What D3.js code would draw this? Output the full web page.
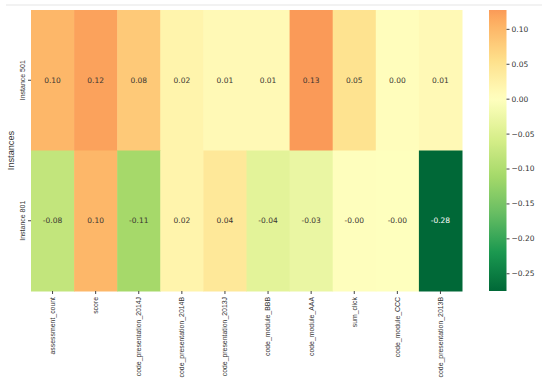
<!DOCTYPE html>
<html>
<head>
<meta charset="utf-8">
<script src="https://cdn.jsdelivr.net/npm/d3@7"></script>
<style>
  body { margin: 0; background: #fff; }
  svg text { font-family: "DejaVu Sans", sans-serif; }
  .lbl { font-family: "Liberation Sans", Arial, sans-serif !important; }
</style>
</head>
<body>
<div id="chart"></div>
<script>
// columns and rows of the heatmap
const features = ['assessment_count', 'score', 'code_presentation_2014J', 'code_presentation_2014B',
  'code_presentation_2013J', 'code_module_BBB', 'code_module_AAA', 'sum_click',
  'code_module_CCC', 'code_presentation_2013B'];
const instances = ['Instance 501', 'Instance 801'];

const row501 = [0.10, 0.12, 0.08, 0.02, 0.01, 0.01, 0.127, 0.05, 0.003, 0.01];
const row801 = [-0.08, 0.10, -0.11, 0.02, 0.04, -0.04, -0.03, -0.002, -0.001, -0.2754];

const cbarTicks = [0.10, 0.05, 0.00, -0.05, -0.10, -0.15, -0.20, -0.25];

// RdYlGn, reversed so negatives go green
const rdylgn = ['#a50026', '#d73027', '#f46d43', '#fdae61', '#fee08b', '#ffffbf',
  '#d9ef8b', '#a6d96a', '#66bd63', '#1a9850', '#006837'];

const W = 550, H = 389;
const margin = { top: 10, right: 88, bottom: 98, left: 31 };
const width = W - margin.left - margin.right;
const height = H - margin.top - margin.bottom;

const svg = d3.select('#chart').append('svg')
  .attr('width', W)
  .attr('height', H);

// faint frame line along the top
svg.append('line')
  .attr('x1', 6).attr('x2', 542)
  .attr('y1', 5).attr('y2', 5)
  .attr('stroke', '#eeeeee')
  .attr('stroke-width', 1.5);

const data = [];
[row501, row801].forEach((vals, i) => {
  vals.forEach((v, j) => data.push({ row: instances[i], col: features[j], value: v }));
});

const vmin = d3.min(data, d => d.value);
const vmax = d3.max(data, d => d.value);
const vrange = Math.max(Math.abs(vmin), Math.abs(vmax));

// seaborn center=0: symmetric norm over the colormap
const cmap = d3.scaleLinear()
  .domain(d3.range(rdylgn.length).map(i => -vrange + i * (2 * vrange) / (rdylgn.length - 1)))
  .range(rdylgn.slice().reverse())
  .interpolate(d3.interpolateRgb)
  .clamp(true);

const x = d3.scaleBand().domain(features).range([0, width]);
const y = d3.scaleBand().domain(instances).range([0, height]);

const g = svg.append('g')
  .attr('transform', `translate(${margin.left},${margin.top})`);

g.selectAll('.cell')
  .data(data)
  .enter().append('rect')
  .attr('class', 'cell')
  .attr('x', d => x(d.col))
  .attr('y', d => y(d.row))
  .attr('width', x.bandwidth() + 0.5)
  .attr('height', y.bandwidth() + 0.5)
  .attr('fill', d => cmap(d.value));

const lum = c => {
  const rgb = d3.rgb(c);
  const f = v => { v /= 255; return v <= 0.03928 ? v / 12.92 : Math.pow((v + 0.055) / 1.055, 2.4); };
  return 0.2126 * f(rgb.r) + 0.7152 * f(rgb.g) + 0.0722 * f(rgb.b);
};

g.selectAll('.annot')
  .data(data)
  .enter().append('text')
  .attr('class', 'annot')
  .attr('x', d => x(d.col) + x.bandwidth() / 2)
  .attr('y', d => y(d.row) + y.bandwidth() / 2)
  .attr('text-anchor', 'middle')
  .attr('dominant-baseline', 'central')
  .attr('font-size', 7.5)
  .attr('fill', d => lum(cmap(d.value)) > 0.408 ? '#3a3530' : '#fff')
  .text(d => {
    const s = d.value.toFixed(2);
    return (d.value < 0 && s === '0.00') ? '-0.00' : s;
  });

// x axis
const xAxis = g.append('g')
  .attr('transform', `translate(0,${height})`)
  .call(d3.axisBottom(x).tickSize(3).tickPadding(3));
xAxis.select('.domain').remove();
xAxis.selectAll('line').attr('stroke', '#444');
xAxis.selectAll('text')
  .attr('class', 'lbl')
  .attr('font-size', 6.9)
  .attr('fill', '#333')
  .attr('transform', 'rotate(-90)')
  .attr('text-anchor', 'end')
  .attr('dy', '0.35em')
  .attr('x', -6)
  .attr('y', 0);

// y axis
const yAxis = g.append('g')
  .call(d3.axisLeft(y).tickSize(3).tickPadding(3));
yAxis.select('.domain').remove();
yAxis.selectAll('line').attr('stroke', '#444');
yAxis.selectAll('text')
  .attr('class', 'lbl')
  .attr('font-size', 7)
  .attr('fill', '#333')
  .attr('transform', 'rotate(-90)')
  .attr('text-anchor', 'middle')
  .attr('x', 0)
  .attr('y', -6)
  .attr('dy', 0);

svg.append('text')
  .attr('class', 'lbl')
  .attr('transform', `translate(14,${margin.top + height / 2}) rotate(-90)`)
  .attr('text-anchor', 'middle')
  .attr('font-size', 9.2)
  .attr('fill', '#333')
  .text('Instances');

// colorbar
const cbX = 489, cbW = 17.5;
const cy = d3.scaleLinear().domain([vmin, vmax]).range([margin.top + height, margin.top]);

const defs = svg.append('defs');
const grad = defs.append('linearGradient')
  .attr('id', 'cbar')
  .attr('x1', 0).attr('x2', 0)
  .attr('y1', 1).attr('y2', 0);
d3.range(0, 1.0001, 0.02).forEach(t => {
  grad.append('stop')
    .attr('offset', t)
    .attr('stop-color', cmap(vmin + t * (vmax - vmin)));
});

svg.append('rect')
  .attr('x', cbX)
  .attr('y', margin.top)
  .attr('width', cbW)
  .attr('height', height)
  .attr('fill', 'url(#cbar)');

const cAxis = svg.append('g')
  .attr('transform', `translate(${cbX + cbW},0)`)
  .call(d3.axisRight(cy).tickValues(cbarTicks).tickSize(3).tickPadding(2)
    .tickFormat(d => d3.format('.2f')(d).replace('-', '\u2212')));
cAxis.select('.domain').remove();
cAxis.selectAll('line').attr('stroke', '#444');
cAxis.selectAll('text')
  .attr('font-size', 7.5)
  .attr('fill', '#333');
</script>
</body>
</html>
